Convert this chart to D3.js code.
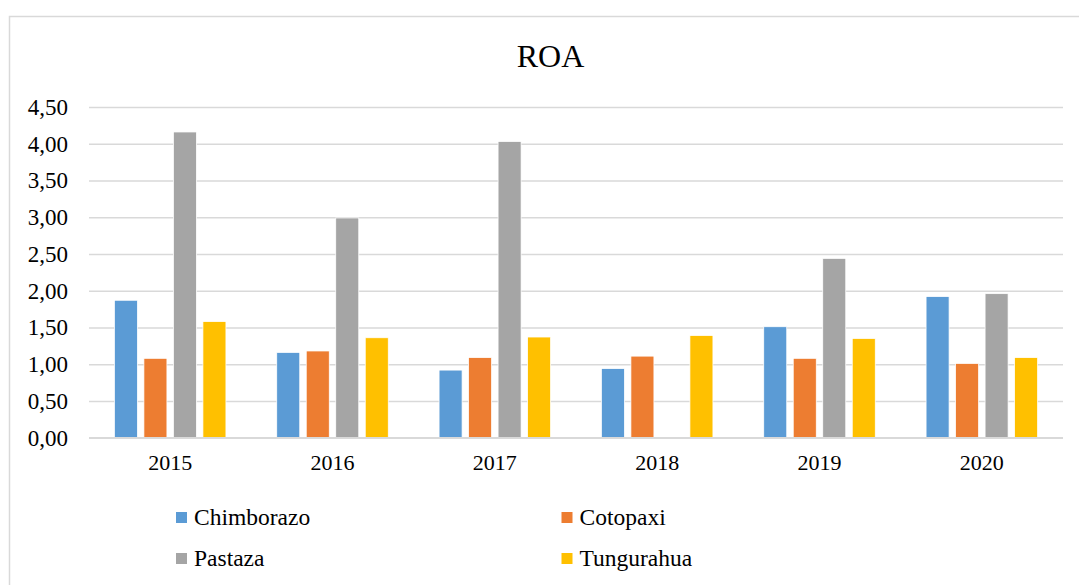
<!DOCTYPE html>
<html>
<head>
<meta charset="utf-8">
<script src="https://cdn.jsdelivr.net/npm/d3@7"></script>
<style>
  body { margin: 0; background: #fff; }
  svg text { font-family: "Liberation Serif", "Times New Roman", serif !important; }
</style>
</head>
<body>
<div id="vis"></div>
<script>
/* Data */
var years = ["2015", "2016", "2017", "2018", "2019", "2020"];
var series = ["Chimborazo", "Cotopaxi", "Pastaza", "Tungurahua"];
var chimborazo = [1.87, 1.16, 0.92, 0.94, 1.51, 1.92];
var cotopaxi = [1.08, 1.18, 1.09, 1.11, 1.08, 1.01];
var pastaza = [4.16, 2.99, 4.03, 0, 2.44, 1.96];
var tungurahua = [1.58, 1.36, 1.37, 1.39, 1.35, 1.09];
var yTicks = [0, 0.5, 1, 1.5, 2, 2.5, 3, 3.5, 4, 4.5];
var colors = ["#5B9BD5", "#ED7D31", "#A5A5A5", "#FFC000"];

var values = [chimborazo, cotopaxi, pastaza, tungurahua];
var rows = [];
years.forEach(function (yr, i) {
    series.forEach(function (s, j) {
        rows.push({year: yr, series: s, value: values[j][i]});
    });
});

/* Set up */
var width = 1079, height = 585;
var plot = {left: 89, right: 1063, top: 107, bottom: 437.7};
var serif = "'Liberation Serif', 'Times New Roman', serif";

var svg = d3.select("#vis").append("svg")
    .attr("width", width)
    .attr("height", height);

// chart border (runs off the right and bottom)
svg.append("rect")
    .attr("x", 9.5).attr("y", 16.5)
    .attr("width", 1100).attr("height", 600)
    .attr("fill", "none")
    .attr("stroke", "#d9d9d9")
    .attr("stroke-width", 1.5);

/* Scales */
var x0 = d3.scaleBand()
    .domain(years)
    .range([plot.left, plot.right])
    .paddingInner(0.313)
    .paddingOuter(0.1565);

var x1 = d3.scaleBand()
    .domain(series)
    .range([0, x0.bandwidth()])
    .paddingInner(0.22);

var y = d3.scaleLinear()
    .domain([0, 4.5])
    .range([plot.bottom, plot.top]);

var color = d3.scaleOrdinal().domain(series).range(colors);

var fmt = d3.formatLocale({decimal: ",", thousands: ".", grouping: [3], currency: ["", ""]}).format(".2f");

/* Gridlines */
var yGrid = d3.axisLeft(y)
    .tickValues(yTicks)
    .tickSize(-(plot.right - plot.left))
    .tickFormat("");

var gridDraw = svg.append("g")
    .attr("transform", "translate(" + plot.left + ",0)")
    .call(yGrid);
gridDraw.select(".domain").remove();
gridDraw.selectAll("line").attr("stroke", "#d9d9d9").attr("stroke-width", 1.5);

/* Y tick labels */
var yAxis = d3.axisLeft(y)
    .tickValues(yTicks)
    .tickSize(0)
    .tickPadding(21)
    .tickFormat(fmt);

var yAxisDraw = svg.append("g")
    .attr("transform", "translate(" + plot.left + ",0)")
    .call(yAxis)
    .attr("font-family", serif)
    .attr("font-size", 23);
yAxisDraw.select(".domain").remove();
yAxisDraw.selectAll("text")
    .style("font-family", serif)
    .style("font-size", "23px")
    .attr("fill", "#000");

/* Bars */
svg.append("g").selectAll("rect")
    .data(rows)
    .enter().append("rect")
    .attr("x", function (d) { return x0(d.year) + x1(d.series); })
    .attr("y", function (d) { return y(d.value); })
    .attr("width", x1.bandwidth())
    .attr("height", function (d) { return y(0) - y(d.value); })
    .attr("fill", function (d) { return color(d.series); })
    .attr("stroke", "#fff")
    .attr("stroke-width", 0.75);

/* X axis */
var xAxis = d3.axisBottom(x0).tickSize(0).tickPadding(17);
var xAxisDraw = svg.append("g")
    .attr("transform", "translate(0," + plot.bottom + ")")
    .call(xAxis)
    .attr("font-family", serif)
    .attr("font-size", 22);
xAxisDraw.select(".domain")
    .attr("stroke", "#d9d9d9")
    .attr("stroke-width", 1.5)
    .attr("d", "M" + plot.left + ",0H" + plot.right);
xAxisDraw.selectAll("text")
    .style("font-family", serif)
    .style("font-size", "22px")
    .attr("fill", "#000");

/* Title */
svg.append("text")
    .attr("x", 550.5)
    .attr("y", 67)
    .attr("text-anchor", "middle")
    .style("font-family", serif)
    .style("font-size", "32px")
    .attr("fill", "#000")
    .text("ROA");

/* Legend */
var legend = svg.append("g").attr("class", "legend");
var item = legend.selectAll("g")
    .data(series)
    .enter().append("g")
    .attr("transform", function (d, i) {
        return "translate(" + (176 + (i % 2) * 385.5) + "," + (512 + Math.floor(i / 2) * 41) + ")";
    });
item.append("rect")
    .attr("width", 11)
    .attr("height", 11)
    .attr("fill", function (d) { return color(d); });
item.append("text")
    .attr("x", 18)
    .attr("y", 13)
    .style("font-family", serif)
    .style("font-size", "23.5px")
    .attr("fill", "#000")
    .text(function (d) { return d; });
</script>
</body>
</html>
